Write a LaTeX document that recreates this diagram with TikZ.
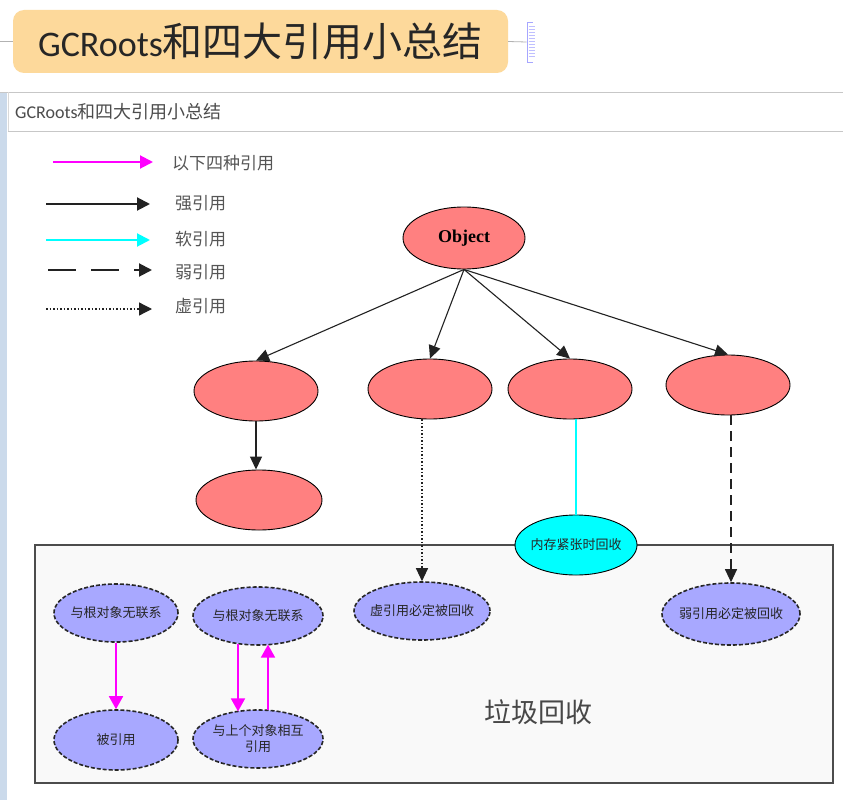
\documentclass[tikz,border=0pt]{standalone}
\usepackage{fontspec}
\setmainfont{Carlito}
\newfontfamily\cjk{Noto Sans CJK SC}
\newfontfamily\tnr{Liberation Serif}
\usetikzlibrary{shapes.geometric,arrows.meta,calc}
\definecolor{salmonc}{HTML}{FF8080}
\definecolor{lav}{HTML}{A8A8FF}
\definecolor{cyanc}{HTML}{00FFFF}
\definecolor{magc}{HTML}{FF00FF}
\definecolor{titlebg}{HTML}{FDD99B}
\definecolor{stripc}{HTML}{CBDAEB}
\definecolor{boxbg}{HTML}{F9F9F9}
\definecolor{legtext}{HTML}{555555}
\definecolor{darkline}{HTML}{222222}
\newcommand{\zw}[1]{\makebox[0pt][c]{#1}}
\begin{document}
\begin{tikzpicture}[x=1pt,y=-1pt,
  objnode/.style={ellipse, draw=black, line width=0.9pt, fill=salmonc,
    minimum width=124pt, minimum height=60pt, inner sep=0pt},
  gcnode/.style={ellipse, draw=black!85, dash pattern=on 4pt off 2pt, line width=1.6pt,
    fill=lav, minimum width=124pt, minimum height=58pt, inner sep=0pt,
    font=\cjk\fontsize{13}{16}\selectfont, text=black!85, align=center},
  refarrow/.style={line width=1.1pt, draw=darkline, -{Triangle[length=13pt,width=12pt]}},
  magarrow/.style={line width=1.8pt, draw=magc, -{Triangle[length=13pt,width=14pt]}},
  legarrow/.style={line width=2pt, -{Triangle[length=13pt,width=13pt]}},
  legtextstyle/.style={anchor=west, inner sep=0pt, text=legtext, font=\cjk\fontsize{17}{20}\selectfont}
]
\useasboundingbox (0,0) rectangle (843,800);
\fill[white] (0,0) rectangle (843,800);

% header area
\fill[stripc] (0,92) rectangle (7,800);
\draw[black!22, line width=1pt] (0,92) -- (843,92);
\draw[black!22, line width=1pt] (8,131) -- (843,131);
\draw[black!15, line width=0.6pt] (8,92) -- (8,131);
\node[anchor=west, inner sep=0pt, text=black!70, font=\fontsize{18}{20}\selectfont] (hdr) at (15,112)
  {GCRoots{\cjk 和四大引用小总结}};

% title
\node[fill=titlebg, rounded corners=11pt, minimum width=495pt, minimum height=63pt, inner sep=0pt,
  text=black!85, font=\fontsize{36}{40}\selectfont] (title) at (260.5,41.5)
  {GCRoots{\cjk\fontsize{40}{44}\selectfont 和四大引用小总结}};
\coordinate (tl) at (0,41.5);
\draw[black!30, line width=0.8pt] (tl) -- (title.west);
\node[draw=blue!35, line width=0.8pt, fill=white, minimum width=8pt, minimum height=40pt, inner sep=0pt] (icon) at (531,42) {};
\fill[white] (533,21) rectangle (536,63);
\foreach \yy in {27,30,...,57} \draw[blue!25, line width=1pt] (528.5,\yy) -- (535,\yy);
\draw[black!30, line width=0.8pt] (title.east) -- (icon.west);

% legend
\coordinate (m1) at (53,162); \coordinate (m2) at (153,162);
\coordinate (k1) at (46,204); \coordinate (k2) at (150,204);
\coordinate (c1) at (46,240); \coordinate (c2) at (150,240);
\coordinate (d1) at (48,270); \coordinate (d2) at (152,270);
\coordinate (t1) at (46,309); \coordinate (t2) at (152,309);
\draw[legarrow, magc] (m1) -- (m2);
\draw[legarrow, darkline] (k1) -- (k2);
\draw[legarrow, cyanc] (c1) -- (c2);
\draw[legarrow, darkline, dash pattern=on 28pt off 15pt] (d1) -- (d2);
\draw[legarrow, darkline, line width=1.3pt, dash pattern=on 1.5pt off 2pt] (t1) -- (t2);
\node[legtextstyle] (lt1) at (172,163) {以下四种引用};
\node[legtextstyle] (lt2) at (175,203) {强引用};
\node[legtextstyle] (lt3) at (175,239) {软引用};
\node[legtextstyle] (lt4) at (175,272) {弱引用};
\node[legtextstyle] (lt5) at (175,306) {虚引用};

% tree
\node[objnode, minimum width=122pt, minimum height=62pt] (o) at (464,238)
  {\tnr\bfseries\fontsize{18}{20}\selectfont Object};
\node[objnode] (a) at (256,391) {};
\node[objnode] (b) at (430,389) {};
\node[objnode] (c) at (570,389) {};
\node[objnode] (d) at (728,385) {};
\node[objnode, minimum width=126pt] (e) at (259,500) {};

\draw[refarrow] (o.south) -- (a.north);
\draw[refarrow] (o.south) -- (b.north);
\draw[refarrow] (o.south) -- (c.north);
\draw[refarrow] (o.south) -- (d.north);
\draw[refarrow] (a.south) -- (a.south |- e.north);

% garbage collection box
\node[draw=black!70, line width=2pt, fill=boxbg, minimum width=798pt, minimum height=238pt, inner sep=0pt] (gcbox) at (434,664) {};
\node[inner sep=0pt, text=black!72, font=\cjk\fontsize{27}{30}\selectfont] (gctitle) at (538,712) {垃圾回收};

\node[ellipse, draw=black, line width=0.9pt, fill=cyanc, minimum width=122pt, minimum height=60pt, inner sep=0pt,
  font=\cjk\fontsize{13}{16}\selectfont, text=black!85] (mem) at (576,545) {\zw{内存紧张时回收}};

\node[gcnode] (p1) at (116,613) {\zw{与根对象无联系}};
\node[gcnode, minimum height=60pt] (p2) at (116,740) {\zw{被引用}};
\node[gcnode, minimum width=130pt] (p3) at (258,616) {\zw{与根对象无联系}};
\node[gcnode, minimum width=130pt] (p4) at (258,739) {\zw{与上个对象相互}\\\zw{引用}};
\node[gcnode, minimum width=136pt] (p5) at (422,611) {\zw{虚引用必定被回收}};
\node[gcnode, minimum width=138pt, minimum height=62pt] (p6) at (731,614) {\zw{弱引用必定被回收}};

\draw[refarrow, line width=1.1pt, dash pattern=on 1.5pt off 2pt] (p5.north |- b.south) -- (p5.north);
\draw[cyanc, line width=1.5pt] (mem.north |- c.south) -- (mem.north);
\draw[refarrow, dash pattern=on 10pt off 6pt] (p6.north |- d.south) -- (p6.north);

\coordinate (q1) at ($(p3.center)+(-20,27.6)$);
\coordinate (q2) at ($(p4.center)+(-20,-27.6)$);
\coordinate (q3) at ($(p4.center)+(10,-28.6)$);
\coordinate (q4) at ($(p3.center)+(10,28.6)$);
\draw[magarrow] (p1.south) -- (p2.north);
\draw[magarrow] (q1) -- (q2);
\draw[magarrow] (q3) -- (q4);
\end{tikzpicture}
\end{document}
